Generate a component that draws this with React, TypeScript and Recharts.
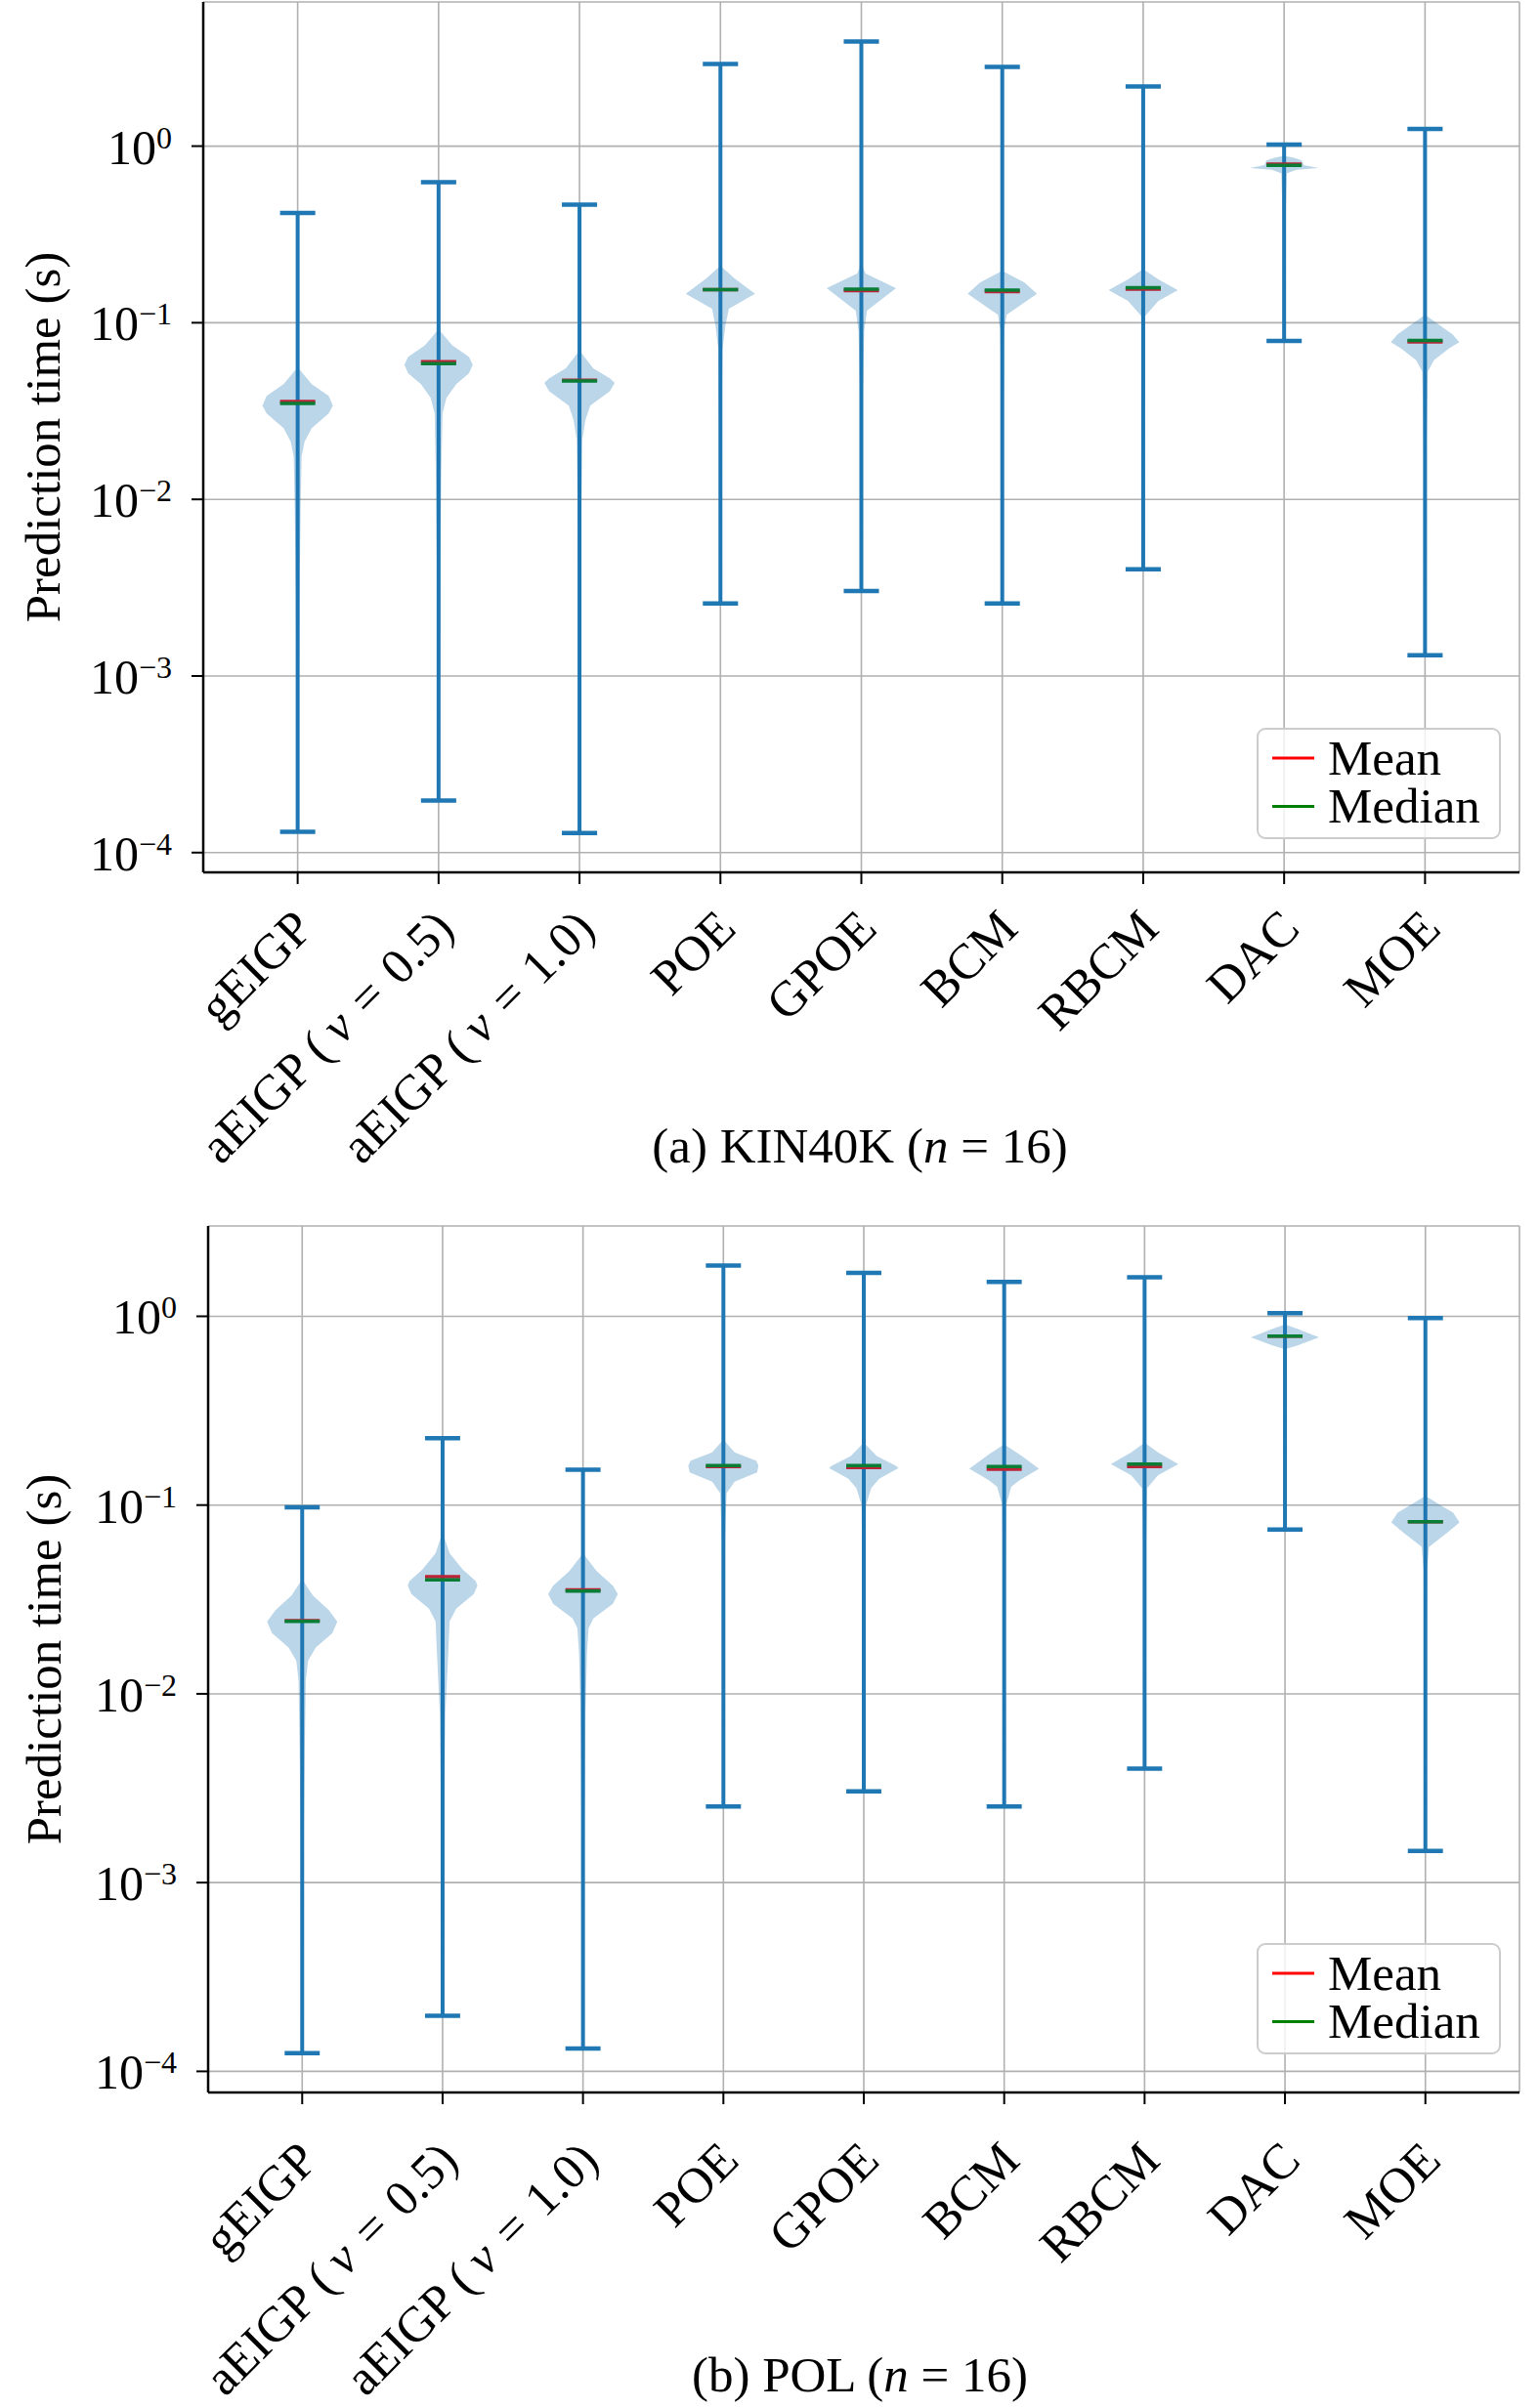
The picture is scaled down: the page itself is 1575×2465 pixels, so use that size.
import React from 'react';
import { ComposedChart, XAxis, YAxis, CartesianGrid, Scatter, ReferenceLine } from 'recharts';

// ---------- data ----------
const methods = ['gEIGP', 'aEIGP (\u2009ν\u2004=\u20040.5)', 'aEIGP (\u2009ν\u2004=\u20041.0)', 'POE', 'GPOE', 'BCM', 'RBCM', 'DAC', 'MOE'];
const positions = [1, 2, 3, 4, 5, 6, 7, 8, 9];

const majorTicks = [1e-4, 1e-3, 1e-2, 1e-1, 1];
const majorTickExponents = ['−4', '−3', '−2', '−1', '0'];

const minorTicksA = [8e-5, 9e-5, 2e-4, 3e-4, 4e-4, 5e-4, 6e-4, 7e-4, 8e-4, 9e-4, 2e-3, 3e-3, 4e-3, 5e-3, 6e-3, 7e-3, 8e-3, 9e-3, 2e-2, 3e-2, 4e-2, 5e-2, 6e-2, 7e-2, 8e-2, 9e-2, 0.2, 0.3, 0.4, 0.5, 0.6, 0.7, 0.8, 0.9, 2, 3, 4, 5, 6];
const minorTicksB = [8e-5, 9e-5, 2e-4, 3e-4, 4e-4, 5e-4, 6e-4, 7e-4, 8e-4, 9e-4, 2e-3, 3e-3, 4e-3, 5e-3, 6e-3, 7e-3, 8e-3, 9e-3, 2e-2, 3e-2, 4e-2, 5e-2, 6e-2, 7e-2, 8e-2, 9e-2, 0.2, 0.3, 0.4, 0.5, 0.6, 0.7, 0.8, 0.9, 2, 3];

// (a) KIN40K
const kinMax = [0.418, 0.625, 0.466, 2.92, 3.91, 2.81, 2.18, 1.02, 1.25];
const kinMin = [1.31e-4, 1.97e-4, 1.29e-4, 2.57e-3, 3.03e-3, 2.57e-3, 4.02e-3, 0.079, 1.31e-3];
const kinMean = [0.0358, 0.0601, 0.0472, 0.154, 0.152, 0.150, 0.155, 0.79, 0.078];
const kinMedian = [0.0349, 0.0586, 0.0468, 0.154, 0.155, 0.153, 0.158, 0.778, 0.0795];
// violin profiles: [value, half-width in category units], top to bottom
const kinViolins: number[][][] = [
  [[0.056, 0], [0.0449, 0.1], [0.0385, 0.22], [0.0339, 0.25], [0.0306, 0.22], [0.0253, 0.1], [0.0212, 0.049], [0.0175, 0.028], [0.009, 0.021], [0.0032, 0.014], [0.0005, 0.006], [0.000131, 0]],
  [[0.0918, 0], [0.0746, 0.097], [0.0641, 0.215], [0.0578, 0.243], [0.0516, 0.215], [0.0449, 0.125], [0.0376, 0.056], [0.0306, 0.028], [0.015, 0.02], [0.004, 0.012], [0.0005, 0.005], [0.000197, 0]],
  [[0.0697, 0], [0.0552, 0.097], [0.0484, 0.215], [0.0456, 0.25], [0.041, 0.215], [0.0339, 0.076], [0.0281, 0.042], [0.0217, 0.02], [0.01, 0.014], [0.002, 0.008], [0.00013, 0]],
  [[0.21, 0], [0.178, 0.1], [0.146, 0.246], [0.12, 0.06], [0.096, 0.035], [0.07, 0.014], [0.02, 0.008], [0.0026, 0]],
  [[0.215, 0], [0.19, 0.03], [0.157, 0.246], [0.117, 0.04], [0.09, 0.02], [0.04, 0.01], [0.003, 0]],
  [[0.197, 0], [0.169, 0.158], [0.146, 0.246], [0.111, 0.031], [0.091, 0.014], [0.03, 0.008], [0.0026, 0]],
  [[0.201, 0], [0.176, 0.108], [0.153, 0.246], [0.133, 0.108], [0.109, 0.014], [0.04, 0.008], [0.004, 0]],
  [[0.88, 0], [0.86, 0.07], [0.83, 0.125], [0.78, 0.14], [0.752, 0.243], [0.735, 0.09], [0.715, 0.045], [0.7, 0.02], [0.3, 0.006], [0.079, 0]],
  [[0.111, 0], [0.096, 0.11], [0.086, 0.195], [0.0776, 0.243], [0.0712, 0.167], [0.0614, 0.063], [0.053, 0.02], [0.02, 0.01], [0.0013, 0]],
];

// (b) POL
const polMax = [0.0974, 0.226, 0.154, 1.86, 1.7, 1.52, 1.61, 1.04, 0.978];
const polMin = [1.25e-4, 1.97e-4, 1.32e-4, 2.53e-3, 3.04e-3, 2.53e-3, 4.01e-3, 0.0741, 1.47e-3];
const polMean = [0.0244, 0.0417, 0.0355, 0.16, 0.158, 0.155, 0.16, 0.785, 0.0815];
const polMedian = [0.0242, 0.0402, 0.035, 0.162, 0.162, 0.16, 0.165, 0.785, 0.0815];
const polViolins: number[][][] = [
  [[0.0404, 0], [0.0332, 0.076], [0.0278, 0.19], [0.0241, 0.25], [0.021, 0.215], [0.0176, 0.097], [0.015, 0.042], [0.0118, 0.026], [0.005, 0.018], [0.0015, 0.01], [0.000125, 0]],
  [[0.0718, 0], [0.0555, 0.05], [0.0455, 0.144], [0.0396, 0.236], [0.0374, 0.248], [0.0338, 0.222], [0.0283, 0.097], [0.0242, 0.05], [0.0163, 0.04], [0.008, 0.02], [0.002, 0.01], [0.000197, 0]],
  [[0.0555, 0], [0.0447, 0.097], [0.0374, 0.213], [0.0338, 0.248], [0.03, 0.213], [0.0251, 0.074], [0.0223, 0.04], [0.0163, 0.028], [0.008, 0.018], [0.002, 0.01], [0.000132, 0]],
  [[0.222, 0], [0.19, 0.08], [0.172, 0.233], [0.162, 0.25], [0.149, 0.24], [0.133, 0.08], [0.1156, 0.023], [0.06, 0.01], [0.0025, 0]],
  [[0.214, 0], [0.182, 0.092], [0.162, 0.225], [0.157, 0.248], [0.138, 0.11], [0.123, 0.053], [0.1, 0.016], [0.03, 0.008], [0.003, 0]],
  [[0.21, 0], [0.182, 0.126], [0.156, 0.248], [0.135, 0.107], [0.125, 0.05], [0.1, 0.014], [0.03, 0.008], [0.0025, 0]],
  [[0.214, 0], [0.19, 0.095], [0.165, 0.24], [0.1436, 0.095], [0.123, 0.019], [0.05, 0.008], [0.004, 0]],
  [[0.907, 0], [0.855, 0.092], [0.774, 0.243], [0.701, 0.09], [0.674, 0.014], [0.3, 0.005], [0.074, 0]],
  [[0.112, 0], [0.0986, 0.122], [0.0911, 0.198], [0.081, 0.243], [0.0718, 0.16], [0.06, 0.026], [0.045, 0.012], [0.01, 0.008], [0.00147, 0]],
];

// ---------- styling ----------
const FONT = "'Liberation Serif', 'Times New Roman', serif";
const BLUE = '#1f77b4';
const RED = '#ff0000';
const GREEN = '#008000';
const CAP_HALF = 0.125;

const buildPolygon = (profile: number[][], pos: number) => [
  ...profile.map(([v, w]) => ({ x: pos + w, y: v })),
  ...profile.slice().reverse().map(([v, w]) => ({ x: pos - w, y: v })),
];

const violinPath = (props: any) => {
  const pts = props.points || [];
  if (!pts.length) return <g />;
  const d = pts.map((p: any, i: number) => `${i ? 'L' : 'M'}${p.x},${p.y}`).join('') + 'Z';
  return <path d={d} fill={BLUE} fillOpacity={0.3} stroke="none" />;
};
const emptyShape = () => <g />;

const italicize = (s: string, ch: string) => {
  const parts = s.split(ch);
  const out: React.ReactNode[] = [];
  parts.forEach((p, i) => {
    if (i > 0) out.push(<tspan key={'i' + i} fontStyle="italic">{ch}</tspan>);
    out.push(<tspan key={'t' + i}>{p}</tspan>);
  });
  return out;
};

const makeXTick = (dx: number, dy: number) => (props: any) => {
  const { x, y, payload } = props;
  const idx = positions.indexOf(payload.value);
  const label = methods[idx] ?? '';
  return (
    <g transform={`translate(${x + dx},${y + dy}) rotate(-45)`}>
      <text x={0} y={0} dy={34} textAnchor="end" fontFamily={FONT} fontSize={51} fill="#000" style={{ whiteSpace: 'pre' }}>
        {italicize(label, 'ν')}
      </text>
    </g>
  );
};
const xTickA = makeXTick(-6, 24);
const xTickB = makeXTick(-6, 36);

const YTick = (props: any) => {
  const { x, y, payload } = props;
  const idx = majorTicks.indexOf(payload.value);
  const exp = majorTickExponents[idx] ?? '';
  return (
    <text x={x} y={y + 18} textAnchor="end" fontFamily={FONT} fontSize={50} fill="#000">
      10<tspan fontSize={32} dy={-16}>{exp}</tspan>
    </text>
  );
};

type PanelProps = {
  maxs: number[]; mins: number[]; means: number[]; medians: number[]; violins: number[][][];
  yDomain: [number, number]; minorTicks: number[]; height: number; marginTop: number; axisWidth: number; xAxisHeight: number;
  xTick: any;
};

function ViolinPanel(p: PanelProps) {
  const axisLine = { stroke: '#000', strokeWidth: 2.5 };
  const tickLine = { stroke: '#000', strokeWidth: 2 };
  return (
    <ComposedChart width={1575} height={p.height} margin={{ top: p.marginTop, right: 20, bottom: 0, left: 0 }}>
      <YAxis yAxisId="minor" type="number" scale="log" dataKey="y" domain={p.yDomain} allowDataOverflow
        ticks={p.minorTicks} interval={0} width={0} tick={false} tickSize={7} tickLine={tickLine} axisLine={false} />
      <YAxis yAxisId={0} type="number" scale="log" dataKey="y" domain={p.yDomain} allowDataOverflow
        ticks={majorTicks} interval={0} width={p.axisWidth} tickSize={12} tickMargin={20}
        tick={YTick} tickLine={tickLine} axisLine={axisLine} />
      <YAxis yAxisId="right" orientation="right" type="number" scale="log" domain={p.yDomain} allowDataOverflow
        width={0} tick={false} tickLine={false} axisLine={axisLine} />
      <XAxis xAxisId={0} type="number" dataKey="x" domain={[0.33, 9.67]} allowDataOverflow ticks={positions}
        interval={0} height={p.xAxisHeight} tickSize={12} tickMargin={0} tick={p.xTick} tickLine={tickLine} axisLine={axisLine} />
      <XAxis xAxisId="top" orientation="top" type="number" domain={[0.33, 9.67]} allowDataOverflow height={0}
        tick={false} tickLine={false} axisLine={axisLine} />
      <CartesianGrid stroke="#b0b0b0" strokeWidth={1.6} />
      {p.violins.map((prof, i) => (
        <Scatter key={'v' + i} data={buildPolygon(prof, positions[i])} line={violinPath} shape={emptyShape}
          isAnimationActive={false} />
      ))}
      {positions.map((pos, i) => (
        <ReferenceLine key={'bar' + i} segment={[{ x: pos, y: p.mins[i] }, { x: pos, y: p.maxs[i] }]}
          stroke={BLUE} strokeWidth={4} />
      ))}
      {positions.map((pos, i) => (
        <ReferenceLine key={'max' + i} segment={[{ x: pos - CAP_HALF, y: p.maxs[i] }, { x: pos + CAP_HALF, y: p.maxs[i] }]}
          stroke={BLUE} strokeWidth={4.5} />
      ))}
      {positions.map((pos, i) => (
        <ReferenceLine key={'min' + i} segment={[{ x: pos - CAP_HALF, y: p.mins[i] }, { x: pos + CAP_HALF, y: p.mins[i] }]}
          stroke={BLUE} strokeWidth={4.5} />
      ))}
      {positions.map((pos, i) => (
        <ReferenceLine key={'mean' + i} segment={[{ x: pos - CAP_HALF, y: p.means[i] }, { x: pos + CAP_HALF, y: p.means[i] }]}
          stroke={RED} strokeWidth={3.5} />
      ))}
      {positions.map((pos, i) => (
        <ReferenceLine key={'med' + i} segment={[{ x: pos - CAP_HALF, y: p.medians[i] }, { x: pos + CAP_HALF, y: p.medians[i] }]}
          stroke={GREEN} strokeWidth={3.5} />
      ))}
    </ComposedChart>
  );
}

function Legend({ top }: { top: number }) {
  return (
    <g>
      <rect x={1287} y={top} width={248} height={112} rx={8} ry={8} fill="#fff" fillOpacity={0.8} stroke="#cccccc" strokeWidth={2} />
      <line x1={1302} x2={1345} y1={top + 30} y2={top + 30} stroke={RED} strokeWidth={3} />
      <line x1={1302} x2={1345} y1={top + 79.5} y2={top + 79.5} stroke={GREEN} strokeWidth={3} />
      <text x={1359} y={top + 47} fontFamily={FONT} fontSize={51} fill="#000">Mean</text>
      <text x={1359} y={top + 96} fontFamily={FONT} fontSize={51} fill="#000">Median</text>
    </g>
  );
}

export default function App() {
  return (
    <div style={{ position: 'absolute', left: 0, top: 0, width: 1575, height: 2465, background: '#fff', overflow: 'hidden' }}>
      <div style={{ position: 'absolute', left: 0, top: 0 }}>
        <ViolinPanel maxs={kinMax} mins={kinMin} means={kinMean} medians={kinMedian} violins={kinViolins}
          yDomain={[7.73e-5, 6.55]} minorTicks={minorTicksA} height={1232} marginTop={2} axisWidth={208} xAxisHeight={339} xTick={xTickA} />
      </div>
      <div style={{ position: 'absolute', left: 0, top: 1232 }}>
        <ViolinPanel maxs={polMax} mins={polMin} means={polMean} medians={polMedian} violins={polViolins}
          yDomain={[7.73e-5, 3.01]} minorTicks={minorTicksB} height={1233} marginTop={23} axisWidth={213} xAxisHeight={323} xTick={xTickB} />
      </div>
      <svg width={1575} height={2465} style={{ position: 'absolute', left: 0, top: 0, pointerEvents: 'none' }}>
        <text transform="translate(61,447.5) rotate(-90)" textAnchor="middle" fontFamily={FONT} fontSize={51} fill="#000">
          Prediction time (s)
        </text>
        <text transform="translate(62,1698.5) rotate(-90)" textAnchor="middle" fontFamily={FONT} fontSize={51} fill="#000">
          Prediction time (s)
        </text>
        <Legend top={746} />
        <Legend top={1990} />
        <text x={880} y={1190} textAnchor="middle" fontFamily={FONT} fontSize={51} fill="#000">
          {italicize('(a) KIN40K (n = 16)', 'n')}
        </text>
        <text x={880} y={2448} textAnchor="middle" fontFamily={FONT} fontSize={51} fill="#000">
          {italicize('(b) POL (n = 16)', 'n')}
        </text>
      </svg>
    </div>
  );
}
